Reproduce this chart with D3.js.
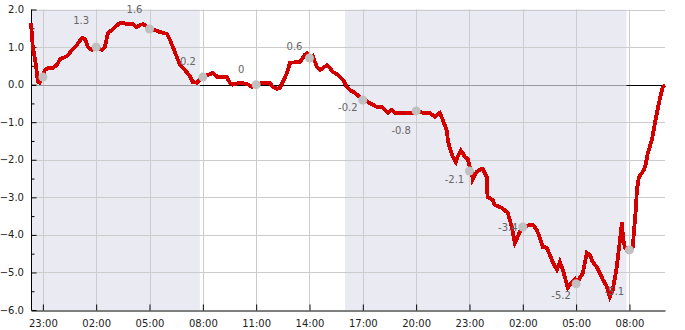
<!DOCTYPE html>
<head>
  <meta charset="utf-8">
  <script src="https://cdnjs.cloudflare.com/ajax/libs/d3/7.8.5/d3.min.js"></script>
</head>

<style>

body {
  margin: 0;
  background-color: #fff;
}

svg text {
  font-family: "DejaVu Sans", sans-serif;
  font-size: 10px;
}

</style>

<body>
  <svg id='chart' width='685' height='330'></svg>
</body>

<script>

// hours counted from midnight of the first day
var hours = [22.33, 22.39, 22.44, 22.56, 22.67, 22.72, 22.81, 22.93, 23.01, 23.12, 23.29, 23.57, 23.79, 23.96,
  24.36, 24.64, 24.92, 25.20, 25.37, 25.54, 25.76, 26.04, 26.32, 26.49, 26.66, 26.88, 27.05, 27.34, 27.50,
  27.73, 28.07, 28.29, 28.46, 28.63, 28.91, 29.02, 29.30, 29.59, 29.98, 30.15, 30.32, 30.54, 30.71, 30.99,
  31.27, 31.44, 31.66, 31.83, 32.06, 32.28, 32.56, 32.84, 33.35, 33.52, 33.69, 34.08, 34.48, 34.76, 35.04,
  35.32, 35.77, 35.94, 36.17, 36.33, 36.50, 36.73, 36.90, 37.29, 37.46, 37.74, 37.85, 38.02, 38.19, 38.42,
  38.58, 38.75, 38.98, 39.15, 39.31, 39.60, 39.88, 40.10, 40.27, 40.55, 40.83, 41.11, 41.39, 41.79, 42.07,
  42.24, 42.40, 42.63, 42.80, 43.25, 43.81, 44.04, 44.37, 44.77, 45.05, 45.33, 45.50, 45.72, 45.78, 45.89,
  46.06, 46.23, 46.34, 46.51, 46.62, 46.73, 46.90, 47.01, 47.12, 47.18, 47.40, 47.57, 47.74, 47.97, 48.02,
  48.31, 48.42, 48.81, 49.15, 49.38, 49.55, 49.72, 49.94, 50.11, 50.39, 50.56, 50.79, 50.96, 51.12, 51.35,
  51.52, 51.69, 51.91, 52.08, 52.25, 52.53, 52.76, 52.93, 53.04, 53.21, 53.38, 53.60, 53.77, 53.94, 54.16,
  54.33, 54.50, 54.73, 54.90, 55.07, 55.29, 55.46, 55.58, 55.63, 55.74, 55.91, 56.08, 56.19, 56.25, 56.36,
  56.42, 56.53, 56.70, 56.82, 56.93, 57.04, 57.27, 57.44, 57.61, 57.78, 57.89, 58.00];

var values = [1.64, 1.32, 1.00, 0.66, 0.31, 0.07, 0.05, 0.18, 0.26, 0.39, 0.44, 0.44, 0.52, 0.68,
  0.76, 0.92, 1.06, 1.24, 1.22, 1.00, 0.92, 1.00, 0.92, 1.00, 1.38, 1.45, 1.53, 1.64, 1.64,
  1.61, 1.61, 1.53, 1.59, 1.61, 1.53, 1.48, 1.45, 1.40, 1.35, 1.19, 1.00, 0.74, 0.52, 0.39,
  0.23, 0.07, 0.05, 0.13, 0.20, 0.26, 0.31, 0.20, 0.20, 0.05, 0.00, 0.05, 0.02, -0.06, -0.01,
  0.05, 0.05, -0.06, -0.11, -0.09, 0.07, 0.31, 0.58, 0.60, 0.60, 0.79, 0.84, 0.71, 0.76, 0.47,
  0.39, 0.44, 0.52, 0.44, 0.34, 0.26, 0.13, -0.06, -0.14, -0.22, -0.33, -0.41, -0.49, -0.59, -0.59,
  -0.67, -0.75, -0.67, -0.75, -0.75, -0.75, -0.70, -0.75, -0.75, -0.86, -0.75, -0.94, -1.21, -1.47, -1.68,
  -1.92, -2.06, -1.92, -1.76, -1.82, -1.92, -1.98, -2.19, -2.30, -2.53, -2.32, -2.27, -2.24, -2.45, -2.99,
  -3.07, -3.20, -3.28, -3.41, -3.79, -4.21, -4.05, -3.81, -3.79, -3.73, -3.73, -3.87, -4.08, -4.32, -4.34,
  -4.53, -4.72, -4.93, -4.72, -4.93, -5.41, -5.25, -5.17, -5.30, -5.14, -5.01, -4.48, -4.53, -4.72, -4.86,
  -5.01, -5.19, -5.38, -5.65, -5.46, -4.86, -4.14, -3.66, -4.06, -4.32, -4.45, -4.40, -4.32, -3.95, -3.26,
  -2.81, -2.46, -2.35, -2.27, -2.08, -1.82, -1.47, -1.02, -0.59, -0.22, -0.06, -0.01];

// grey marker points every three hours
var markHours = [23, 26, 29, 32, 35, 38, 41, 44, 47, 50, 53, 56];
var markValues = [0.2, 1.0, 1.48, 0.2, 0.0, 0.71, -0.41, -0.7, -2.3, -3.79, -5.3, -4.4];

// value labels, one per marker after the first
var labelHours = [26, 29, 32, 35, 38, 41, 44, 47, 50, 53, 56];
var labelValues = [1.3, 1.6, 0.2, 0, 0.6, -0.2, -0.8, -2.1, -3.4, -5.2, -5.1];

// night bands [start, end]
var nights = [[22.33, 31.83], [40.0, 55.83]];

var yTicks = [2, 1, 0, -1, -2, -3, -4, -5, -6];
var xTickHours = [23, 26, 29, 32, 35, 38, 41, 44, 47, 50, 53, 56];

var day0 = new Date(2024, 0, 1);
function t(h) { return d3.timeMinute.offset(day0, Math.round(h * 60)); }

var pLeft = 31, pRight = 665, pTop = 9.5, pBottom = 310;

var x = d3.scaleTime()
    .domain([t(22.33), t(58.0)])
    .range([pLeft, pRight]);

var y = d3.scaleLinear()
    .domain([-6, 2])
    .range([pBottom, pTop]);

var svg = d3.select('#chart');

// shaded night bands
svg.selectAll('rect.night')
    .data(nights)
  .enter().append('rect')
    .attr('class', 'night')
    .attr('x', function(d){ return x(t(d[0])); })
    .attr('y', pTop)
    .attr('width', function(d){ return x(t(d[1])) - x(t(d[0])); })
    .attr('height', pBottom - pTop)
    .attr('fill', '#eaeaf2');

// grid
svg.append('g')
  .selectAll('line')
    .data(yTicks.slice(0, -1))
  .enter().append('line')
    .attr('x1', pLeft + 5).attr('x2', pRight)
    .attr('y1', function(d){ return Math.round(y(d)) + 0.5; })
    .attr('y2', function(d){ return Math.round(y(d)) + 0.5; })
    .attr('stroke', '#cccccc');

svg.append('g')
  .selectAll('line')
    .data(xTickHours)
  .enter().append('line')
    .attr('x1', function(d){ return Math.round(x(t(d))) + 0.5; })
    .attr('x2', function(d){ return Math.round(x(t(d))) + 0.5; })
    .attr('y1', pTop).attr('y2', pBottom - 5)
    .attr('stroke', '#cccccc');

// zero line: black on day, grey under the night bands
var y0 = Math.round(y(0)) + 0.5;
svg.append('line')
    .attr('x1', pLeft).attr('x2', pRight)
    .attr('y1', y0).attr('y2', y0)
    .attr('stroke', '#000');

svg.selectAll('line.zeronight')
    .data(nights)
  .enter().append('line')
    .attr('class', 'zeronight')
    .attr('x1', function(d){ return x(t(d[0])) + 5; })
    .attr('x2', function(d){ return x(t(d[1])); })
    .attr('y1', y0).attr('y2', y0)
    .attr('stroke', '#9a9a9e');

// axes
var yAxis = d3.axisRight(y)
    .tickValues(d3.range(-6, 2.01, 0.5))
    .tickSize(0)
    .tickFormat('');

var gy = svg.append('g')
    .attr('transform', 'translate(' + (pLeft + 0.5) + ',0)')
    .call(yAxis);
gy.select('.domain').remove();
gy.selectAll('.tick line')
    .attr('x2', function(d){ return d % 1 === 0 ? 5 : 3; })
    .attr('stroke', '#000');

svg.append('line')
    .attr('x1', pLeft + 0.5).attr('x2', pLeft + 0.5)
    .attr('y1', pTop).attr('y2', pBottom + 0.5)
    .attr('stroke', '#000');

svg.append('g')
  .selectAll('text')
    .data(yTicks)
  .enter().append('text')
    .attr('x', 24)
    .attr('y', function(d){ return y(d); })
    .attr('dy', '0.35em')
    .attr('text-anchor', 'end')
    .attr('fill', '#222')
    .text(function(d){ return d3.format('.1f')(d); });

var xAxis = d3.axisBottom(x)
    .tickValues(xTickHours.map(t))
    .tickSize(0)
    .tickPadding(9)
    .tickFormat(d3.timeFormat('%H:%M'));

var gx = svg.append('g')
    .attr('transform', 'translate(0,' + (pBottom + 0.5) + ')')
    .call(xAxis);
gx.select('.domain').attr('stroke', '#000');
gx.selectAll('.tick line').attr('y2', -6).attr('stroke', '#000');
gx.selectAll('.tick text')
    .attr('fill', '#222')
    .style('font-family', '"DejaVu Sans", sans-serif')
    .style('font-size', '10px');

// the series
var line = d3.line()
    .x(function(d){ return x(t(d[0])); })
    .y(function(d){ return y(d[1]); });

svg.append('path')
    .datum(d3.zip(hours, values))
    .attr('d', line)
    .attr('fill', 'none')
    .attr('stroke', '#d40000')
    .attr('stroke-width', 3.8)
    .attr('stroke-linejoin', 'miter')
    .attr('shape-rendering', 'crispEdges');

// markers
svg.selectAll('circle.mark')
    .data(d3.zip(markHours, markValues))
  .enter().append('circle')
    .attr('class', 'mark')
    .attr('cx', function(d){ return x(t(d[0])); })
    .attr('cy', function(d){ return y(d[1]); })
    .attr('r', 4.5)
    .attr('fill', '#c0c0c0');

svg.selectAll('text.val')
    .data(d3.zip(labelHours, labelValues))
  .enter().append('text')
    .attr('class', 'val')
    .attr('x', function(d){ return x(t(d[0])) - 15; })
    .attr('y', function(d){ return y(d[1]) + (d[1] >= 0 ? -15.5 : 15.5); })
    .attr('dy', '0.35em')
    .attr('text-anchor', 'middle')
    .attr('fill', '#666')
    .text(function(d){ return d[1]; });

</script>
